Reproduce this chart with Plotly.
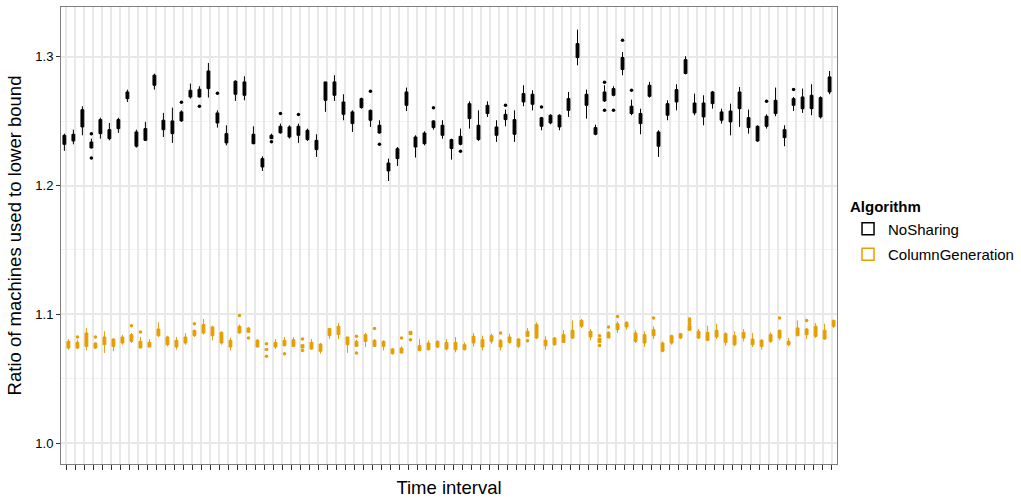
import plotly.graph_objects as go

# Time intervals on the horizontal axis (tick labels are left blank)
intervals = list(range(1, 87))

# NoSharing: box statistics per interval
ns_lo = [1.2270, 1.2321, 1.2391, 1.2288, 1.2365, 1.2352, 1.2410, 1.2650, 1.2295, 1.2347,
         1.2746, 1.2378, 1.2332, 1.2495, 1.2676, 1.2684, 1.2684, 1.2451, 1.2313, 1.2658,
         1.2663, 1.2321, 1.2114, 1.2365, 1.2404, 1.2365, 1.2332, 1.2347, 1.2223, 1.2573,
         1.2658, 1.2508, 1.2417, 1.2598, 1.2456, 1.2404, 1.2036, 1.2153, 1.2580, 1.2218,
         1.2313, 1.2435, 1.2365, 1.2202, 1.2313, 1.2443, 1.2347, 1.2534, 1.2340, 1.2461,
         1.2340, 1.2617, 1.2585, 1.2430, 1.2477, 1.2430, 1.2534, 1.2935, 1.2521, 1.2391,
         1.2650, 1.2694, 1.2858, 1.2547, 1.2399, 1.2684, 1.2223, 1.2508, 1.2585, 1.2865,
         1.2547, 1.2469, 1.2598, 1.2482, 1.2391, 1.2456, 1.2404, 1.2340, 1.2443, 1.2539,
         1.2306, 1.2580, 1.2565, 1.2547, 1.2521, 1.2710]
ns_q1 = [1.2321, 1.2347, 1.2456, 1.2293, 1.2404, 1.2365, 1.2443, 1.2676, 1.2306, 1.2352,
         1.2780, 1.2435, 1.2404, 1.2503, 1.2689, 1.2689, 1.2754, 1.2487, 1.2332, 1.2710,
         1.2702, 1.2326, 1.2145, 1.2365, 1.2410, 1.2378, 1.2391, 1.2358, 1.2280, 1.2663,
         1.2702, 1.2554, 1.2482, 1.2606, 1.2508, 1.2409, 1.2114, 1.2210, 1.2624, 1.2300,
         1.2326, 1.2451, 1.2391, 1.2288, 1.2321, 1.2521, 1.2358, 1.2560, 1.2391, 1.2513,
         1.2399, 1.2650, 1.2632, 1.2461, 1.2487, 1.2456, 1.2585, 1.2995, 1.2624, 1.2399,
         1.2658, 1.2702, 1.2902, 1.2560, 1.2482, 1.2694, 1.2306, 1.2547, 1.2650, 1.2871,
         1.2565, 1.2534, 1.2637, 1.2508, 1.2495, 1.2598, 1.2451, 1.2347, 1.2461, 1.2560,
         1.2373, 1.2624, 1.2598, 1.2598, 1.2534, 1.2728]
ns_med = [1.2356, 1.2373, 1.2523, 1.2316, 1.2458, 1.2400, 1.2478, 1.2702, 1.2361, 1.2397,
          1.2819, 1.2471, 1.2453, 1.2538, 1.2715, 1.2719, 1.2822, 1.2526, 1.2368, 1.2760,
          1.2754, 1.2362, 1.2177, 1.2378, 1.2435, 1.2417, 1.2426, 1.2394, 1.2316, 1.2734,
          1.2754, 1.2602, 1.2527, 1.2641, 1.2546, 1.2439, 1.2145, 1.2248, 1.2676, 1.2339,
          1.2367, 1.2477, 1.2430, 1.2323, 1.2352, 1.2579, 1.2413, 1.2592, 1.2423, 1.2533,
          1.2456, 1.2682, 1.2671, 1.2494, 1.2517, 1.2500, 1.2630, 1.3049, 1.2667, 1.2425,
          1.2693, 1.2728, 1.2948, 1.2588, 1.2521, 1.2737, 1.2361, 1.2592, 1.2698, 1.2925,
          1.2603, 1.2588, 1.2682, 1.2540, 1.2537, 1.2663, 1.2489, 1.2404, 1.2500, 1.2611,
          1.2404, 1.2650, 1.2643, 1.2650, 1.2609, 1.2786]
ns_q3 = [1.2391, 1.2399, 1.2590, 1.2339, 1.2513, 1.2435, 1.2513, 1.2728, 1.2417, 1.2443,
         1.2858, 1.2508, 1.2503, 1.2573, 1.2741, 1.2749, 1.2891, 1.2565, 1.2404, 1.2811,
         1.2806, 1.2399, 1.2210, 1.2391, 1.2461, 1.2456, 1.2461, 1.2430, 1.2352, 1.2806,
         1.2806, 1.2650, 1.2573, 1.2676, 1.2585, 1.2469, 1.2176, 1.2287, 1.2728, 1.2378,
         1.2409, 1.2503, 1.2469, 1.2358, 1.2383, 1.2637, 1.2469, 1.2624, 1.2456, 1.2554,
         1.2513, 1.2715, 1.2710, 1.2528, 1.2547, 1.2547, 1.2676, 1.3104, 1.2710, 1.2451,
         1.2728, 1.2754, 1.2995, 1.2617, 1.2560, 1.2780, 1.2417, 1.2637, 1.2746, 1.2979,
         1.2642, 1.2642, 1.2728, 1.2573, 1.2580, 1.2728, 1.2528, 1.2461, 1.2539, 1.2663,
         1.2435, 1.2676, 1.2689, 1.2702, 1.2684, 1.2845]
ns_hi = [1.2404, 1.2435, 1.2617, 1.2365, 1.2528, 1.2487, 1.2528, 1.2746, 1.2435, 1.2495,
         1.2870, 1.2565, 1.2606, 1.2585, 1.2793, 1.2772, 1.2953, 1.2585, 1.2469, 1.2819,
         1.2850, 1.2461, 1.2228, 1.2404, 1.2482, 1.2469, 1.2482, 1.2443, 1.2399, 1.2806,
         1.2858, 1.2710, 1.2585, 1.2684, 1.2591, 1.2508, 1.2210, 1.2300, 1.2762, 1.2391,
         1.2422, 1.2508, 1.2508, 1.2365, 1.2443, 1.2655, 1.2585, 1.2655, 1.2508, 1.2591,
         1.2585, 1.2780, 1.2741, 1.2534, 1.2554, 1.2554, 1.2728, 1.3212, 1.2746, 1.2474,
         1.2780, 1.2772, 1.3039, 1.2668, 1.2598, 1.2806, 1.2430, 1.2663, 1.2788, 1.3005,
         1.2715, 1.2702, 1.2736, 1.2598, 1.2637, 1.2767, 1.2591, 1.2469, 1.2554, 1.2762,
         1.2469, 1.2689, 1.2754, 1.2788, 1.2694, 1.2891]
# NoSharing outliers: interval number and value
ns_out_interval = [4, 4, 14, 16, 18, 24, 25, 27, 35, 36, 42, 45, 50, 54, 61, 61, 62, 63, 64, 79, 82]
ns_out_value = [1.2404, 1.2215, 1.2648, 1.2617, 1.2718, 1.2340, 1.2560, 1.2552, 1.2733, 1.2321,
                1.2606, 1.2267, 1.2624, 1.2611, 1.2803, 1.2585, 1.2585, 1.3130, 1.2741, 1.2655,
                1.2746]

# ColumnGeneration: box statistics per interval
cg_lo = [1.0725, 1.0731, 1.0720, 1.0731, 1.0700, 1.0713, 1.0764, 1.0777, 1.0738, 1.0746,
         1.0824, 1.0751, 1.0725, 1.0764, 1.0824, 1.0842, 1.0798, 1.0764, 1.0720, 1.0850,
         1.0855, 1.0744, 1.0720, 1.0731, 1.0751, 1.0746, 1.0738, 1.0725, 1.0694, 1.0808,
         1.0808, 1.0700, 1.0746, 1.0746, 1.0746, 1.0720, 1.0687, 1.0694, 1.0842, 1.0713,
         1.0720, 1.0738, 1.0720, 1.0705, 1.0720, 1.0751, 1.0720, 1.0772, 1.0720, 1.0772,
         1.0738, 1.0829, 1.0808, 1.0725, 1.0756, 1.0777, 1.0808, 1.0894, 1.0798, 1.0782,
         1.0816, 1.0855, 1.0881, 1.0777, 1.0746, 1.0808, 1.0705, 1.0764, 1.0808, 1.0876,
         1.0808, 1.0790, 1.0808, 1.0756, 1.0751, 1.0790, 1.0746, 1.0725, 1.0777, 1.0798,
         1.0751, 1.0829, 1.0808, 1.0816, 1.0803, 1.0894]
cg_q1 = [1.0738, 1.0738, 1.0751, 1.0738, 1.0764, 1.0751, 1.0777, 1.0790, 1.0738, 1.0746,
         1.0834, 1.0764, 1.0746, 1.0777, 1.0834, 1.0855, 1.0834, 1.0777, 1.0746, 1.0855,
         1.0860, 1.0746, 1.0720, 1.0746, 1.0756, 1.0751, 1.0738, 1.0731, 1.0713, 1.0834,
         1.0842, 1.0764, 1.0751, 1.0790, 1.0751, 1.0751, 1.0694, 1.0700, 1.0842, 1.0720,
         1.0725, 1.0746, 1.0731, 1.0725, 1.0725, 1.0777, 1.0746, 1.0790, 1.0746, 1.0782,
         1.0751, 1.0829, 1.0816, 1.0756, 1.0764, 1.0782, 1.0816, 1.0907, 1.0824, 1.0782,
         1.0816, 1.0881, 1.0902, 1.0790, 1.0777, 1.0834, 1.0713, 1.0777, 1.0816, 1.0876,
         1.0816, 1.0798, 1.0824, 1.0782, 1.0764, 1.0816, 1.0764, 1.0751, 1.0790, 1.0816,
         1.0764, 1.0834, 1.0842, 1.0829, 1.0808, 1.0907]
cg_med = [1.0764, 1.0760, 1.0803, 1.0757, 1.0794, 1.0780, 1.0800, 1.0816, 1.0764, 1.0764,
          1.0860, 1.0794, 1.0772, 1.0800, 1.0855, 1.0888, 1.0868, 1.0818, 1.0772, 1.0881,
          1.0877, 1.0772, 1.0726, 1.0764, 1.0777, 1.0777, 1.0751, 1.0757, 1.0741, 1.0861,
          1.0875, 1.0794, 1.0770, 1.0816, 1.0775, 1.0770, 1.0713, 1.0719, 1.0855, 1.0738,
          1.0751, 1.0768, 1.0757, 1.0754, 1.0745, 1.0803, 1.0775, 1.0812, 1.0772, 1.0803,
          1.0780, 1.0849, 1.0868, 1.0777, 1.0790, 1.0812, 1.0846, 1.0930, 1.0846, 1.0797,
          1.0838, 1.0904, 1.0920, 1.0822, 1.0810, 1.0857, 1.0745, 1.0806, 1.0833, 1.0894,
          1.0842, 1.0829, 1.0850, 1.0816, 1.0799, 1.0838, 1.0786, 1.0775, 1.0816, 1.0846,
          1.0777, 1.0864, 1.0864, 1.0868, 1.0842, 1.0930]
cg_q3 = [1.0790, 1.0782, 1.0855, 1.0777, 1.0824, 1.0808, 1.0824, 1.0842, 1.0790, 1.0782,
         1.0886, 1.0824, 1.0798, 1.0824, 1.0876, 1.0920, 1.0902, 1.0860, 1.0798, 1.0907,
         1.0894, 1.0798, 1.0733, 1.0782, 1.0798, 1.0803, 1.0764, 1.0782, 1.0769, 1.0889,
         1.0907, 1.0824, 1.0790, 1.0842, 1.0798, 1.0790, 1.0731, 1.0738, 1.0868, 1.0756,
         1.0777, 1.0790, 1.0782, 1.0782, 1.0764, 1.0829, 1.0803, 1.0834, 1.0798, 1.0824,
         1.0808, 1.0868, 1.0920, 1.0798, 1.0816, 1.0842, 1.0876, 1.0953, 1.0868, 1.0813,
         1.0860, 1.0927, 1.0938, 1.0855, 1.0842, 1.0881, 1.0777, 1.0834, 1.0850, 1.0912,
         1.0868, 1.0860, 1.0876, 1.0850, 1.0834, 1.0860, 1.0808, 1.0798, 1.0842, 1.0876,
         1.0790, 1.0894, 1.0886, 1.0907, 1.0876, 1.0953]
cg_hi = [1.0808, 1.0803, 1.0894, 1.0782, 1.0868, 1.0816, 1.0842, 1.0855, 1.0824, 1.0808,
         1.0938, 1.0834, 1.0824, 1.0855, 1.0881, 1.0964, 1.0912, 1.0868, 1.0816, 1.0920,
         1.0902, 1.0808, 1.0733, 1.0808, 1.0824, 1.0824, 1.0764, 1.0808, 1.0777, 1.0894,
         1.0933, 1.0824, 1.0803, 1.0855, 1.0808, 1.0798, 1.0738, 1.0751, 1.0868, 1.0808,
         1.0798, 1.0798, 1.0808, 1.0824, 1.0782, 1.0855, 1.0834, 1.0850, 1.0808, 1.0850,
         1.0816, 1.0894, 1.0938, 1.0829, 1.0824, 1.0876, 1.0953, 1.0964, 1.0886, 1.0813,
         1.0868, 1.0946, 1.0946, 1.0876, 1.0868, 1.0907, 1.0790, 1.0842, 1.0855, 1.0912,
         1.0886, 1.0912, 1.0927, 1.0860, 1.0868, 1.0886, 1.0855, 1.0808, 1.0860, 1.0881,
         1.0816, 1.0953, 1.0894, 1.0933, 1.0927, 1.0959]
# ColumnGeneration outliers: interval number and value
cg_out_interval = [2, 4, 8, 9, 15, 20, 21, 23, 23, 25, 27, 27, 33, 33, 35, 38, 39, 49, 52,
                   60, 60, 61, 62, 66, 70, 70, 70, 80, 83]
cg_out_value = [1.0824, 1.0824, 1.0912, 1.0863, 1.0927, 1.0990, 1.0816, 1.0772, 1.0674, 1.0694,
                1.0808, 1.0718, 1.0829, 1.0700, 1.0889, 1.0816, 1.0803, 1.0855, 1.0795,
                1.0834, 1.0757, 1.0902, 1.0984, 1.0972, 1.0964, 1.0946, 1.0927, 1.0972, 1.0953]

BLACK = "#000000"
ORANGE = "#E69F00"
FONT = "Liberation Sans"
BOXGAP = 0.1
BOXGROUPGAP = 0.3
slot = (1 - BOXGAP) / 2  # width of one dodged slot in category units

series = [
    ("NoSharing", BLACK, ns_lo, ns_q1, ns_med, ns_q3, ns_hi, ns_out_interval, ns_out_value, -slot / 2),
    ("ColumnGeneration", ORANGE, cg_lo, cg_q1, cg_med, cg_q3, cg_hi, cg_out_interval, cg_out_value, slot / 2),
]

fig = go.Figure()
for name, color, lo, q1, med, q3, hi, out_x, out_y, shift in series:
    fig.add_trace(go.Box(
        x=intervals, lowerfence=lo, q1=q1, median=med, q3=q3, upperfence=hi,
        name=name, offsetgroup=name, legendgroup=name, showlegend=False,
        line=dict(color=color, width=1), fillcolor=color,
        whiskerwidth=0, boxpoints=False, hoverinfo="skip",
    ))
    fig.add_trace(go.Scatter(
        x=[v + shift for v in out_x], y=out_y, mode="markers",
        marker=dict(color=color, size=3.5, line=dict(width=0)),
        legendgroup=name, showlegend=False, hoverinfo="skip",
    ))
    # legend key: an outlined box kept outside the visible y range
    fig.add_trace(go.Box(
        x=[intervals[0]], lowerfence=[5.0], q1=[5.1], median=[5.2], q3=[5.3], upperfence=[5.4],
        name=name, offsetgroup=name, legendgroup=name, showlegend=True,
        line=dict(color=color, width=1.5), fillcolor="white",
        whiskerwidth=0, boxpoints=False, hoverinfo="skip",
    ))

fig.update_layout(
    width=1021, height=498,
    margin=dict(l=61, r=184, t=7, b=34, autoexpand=False),
    paper_bgcolor="white", plot_bgcolor="white",
    boxmode="group", boxgap=BOXGAP, boxgroupgap=BOXGROUPGAP,
    font=dict(family=FONT, color="#000000", size=13),
    legend=dict(
        title=dict(text="<b>Algorithm</b>", font=dict(size=15)),
        x=1.0142, xanchor="left", y=0.593, yanchor="top",
        font=dict(size=15), tracegroupgap=3, bgcolor="rgba(0,0,0,0)",
    ),
)
fig.update_xaxes(
    range=[0.4, 86.6], tickmode="linear", tick0=1, dtick=1,
    ticks="outside", ticklen=5, tickwidth=1, tickcolor="#333333",
    showticklabels=False, automargin=False,
    showgrid=True, gridcolor="#e8e8e8", gridwidth=1.5, zeroline=False,
    showline=True, linecolor="#7f7f7f", linewidth=1, mirror=True,
    title=dict(text="Time interval", font=dict(size=18.5), standoff=12),
)
fig.update_yaxes(
    range=[0.9837, 1.3388], automargin=False,
    tickvals=[1.0, 1.1, 1.2, 1.3], ticktext=["1.0", "1.1", "1.2", "1.3"],
    ticks="outside", ticklen=4, tickwidth=1, tickcolor="#333333",
    tickfont=dict(size=13),
    showgrid=True, gridcolor="#e8e8e8", gridwidth=1.5, zeroline=False,
    minor=dict(tickvals=[1.05, 1.15, 1.25], showgrid=True, gridcolor="#f2f2f2", gridwidth=1, ticks=""),
    showline=True, linecolor="#7f7f7f", linewidth=1, mirror=True,
    title=dict(text="Ratio of machines used to lower bound", font=dict(size=18.5), standoff=8),
)

fig.write_html("out.html")
